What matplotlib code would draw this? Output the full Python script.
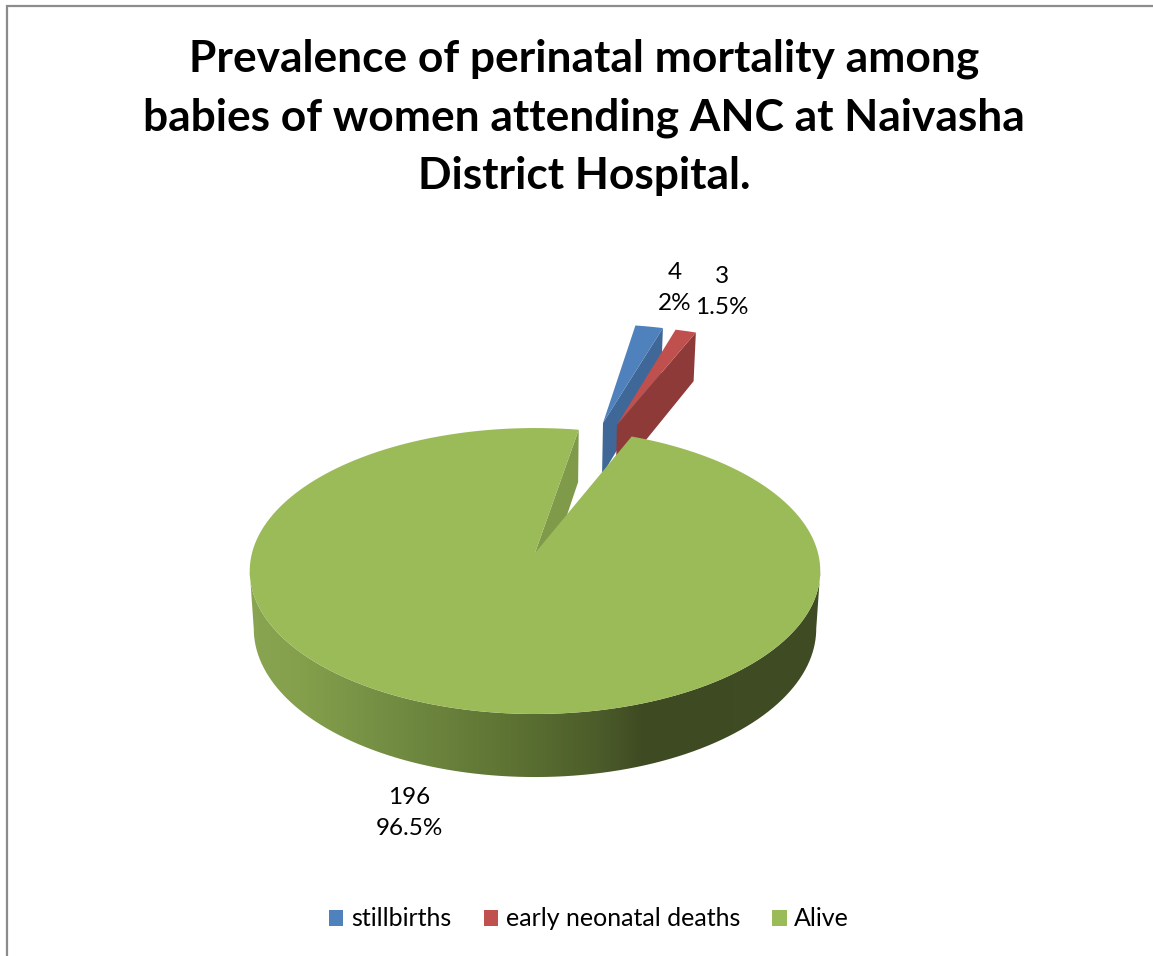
import numpy as np
import matplotlib
matplotlib.use('Agg')
import matplotlib.pyplot as plt
import matplotlib.colors as mcolors
from matplotlib.patches import Patch, PathPatch, Polygon
from matplotlib.path import Path

title = 'Prevalence of perinatal mortality among\nbabies of women attending ANC at Naivasha\nDistrict Hospital.'
categories = ['stillbirths', 'early neonatal deaths', 'Alive']
counts = [4, 3, 196]
percent_labels = ['2%', '1.5%', '96.5%']

top_colors = ['#4f81bd', '#c0504d', '#9bbb59']
wall_colors = ['#3f6797', '#8e3a39', '#7f9a48']
# plane offsets of the pulled out slices
offsets = [(0.272, -1.046), (0.327, -1.028), (0.0, 0.0)]
first_angle = 10.0

# perspective of the disc, in pixels
k = 0.126
cx = 535
top_plane = (283, 553, 140.7)
bottom_plane = (279, 610, 146)


def project(u, v, plane):
    rx, y0, b = plane
    s = 1 / (1 - k * v)
    return cx + rx * u * s, y0 + b * v * s


def rim(a0, a1, offset, plane, n=200):
    t = np.radians(np.linspace(a0, a1, n))
    return project(offset[0] + np.sin(t), offset[1] - np.cos(t), plane)


def face(a0, a1, offset):
    x, y = rim(a0, a1, offset, top_plane)
    ax0, ay0 = project(offset[0], offset[1], top_plane)
    return np.column_stack([np.r_[ax0, x], np.r_[ay0, y]])


def radial_wall(a, offset):
    xt, yt = rim(a, a, offset, top_plane, n=1)
    xb, yb = rim(a, a, offset, bottom_plane, n=1)
    ax0, ay0 = project(offset[0], offset[1], top_plane)
    bx0, by0 = project(offset[0], offset[1], bottom_plane)
    return [(ax0, ay0), (xt[0], yt[0]), (xb[0], yb[0]), (bx0, by0)]


fig = plt.figure(figsize=(11.53, 9.56), dpi=100)
ax = fig.add_axes([0, 0, 1, 1])
ax.set_xlim(0, 1153)
ax.set_ylim(956, 0)
ax.axis('off')

# chart border, only top and left are in the frame
ax.plot([7, 7, 1153], [956, 6, 6], color='#8c8c8c', lw=1.6, solid_joinstyle='miter')

edges = first_angle + np.r_[0, np.cumsum(counts)] / sum(counts) * 360

# front wall of the big slice with its shading
xt, yt = rim(97.2, 262.8, offsets[2], top_plane)
xb, yb = rim(262.8, 97.2, offsets[2], bottom_plane)
wall_path = Path(np.column_stack([np.r_[xt, xb], np.r_[yt, yb]]))
wall_cmap = mcolors.LinearSegmentedColormap.from_list('wall', [
    (0.0, '#8aa552'), (0.09, '#84a04c'), (0.27, '#708a41'), (0.44, '#5f7534'),
    (0.61, '#4c5c2a'), (0.69, '#3e4a22'), (1.0, '#404d24')])
im = ax.imshow(np.linspace(0, 1, 256)[None, :], cmap=wall_cmap, aspect='auto',
               extent=[xt.min() - 2, xt.max() + 2, 800, 500], zorder=1)
im.set_clip_path(PathPatch(wall_path, transform=ax.transData))
ax.set_xlim(0, 1153)
ax.set_ylim(956, 0)

# small slices first, big one goes over them
ax.add_patch(Polygon(radial_wall(edges[1], offsets[0]), color=wall_colors[0], lw=0, zorder=2))
ax.add_patch(Polygon(face(edges[0], edges[1], offsets[0]), color=top_colors[0], lw=0, zorder=3))
ax.add_patch(Polygon(radial_wall(edges[2], offsets[1]), color=wall_colors[1], lw=0, zorder=4))
ax.add_patch(Polygon(face(edges[1], edges[2], offsets[1]), color=top_colors[1], lw=0, zorder=5))
ax.add_patch(Polygon(radial_wall(edges[3], offsets[2]), color=wall_colors[2], lw=0, zorder=6))
ax.add_patch(Polygon(face(edges[2], edges[3], offsets[2]), color=top_colors[2], lw=0, zorder=7))

font = 'Lato'
ax.text(584, 117, title, ha='center', va='center', fontsize=31.9, fontweight='bold',
        family=font, linespacing=1.55, color='black')

label_pos = [(675, 288), (722, 292), (409, 813)]
for c, p, (lx, ly) in zip(counts, percent_labels, label_pos):
    ax.text(lx, ly, '%d\n%s' % (c, p), ha='center', va='center', fontsize=17.5,
            family=font, linespacing=1.6, color='black', zorder=8)

handles = [Patch(facecolor=c, edgecolor='none') for c in top_colors]
ax.legend(handles, categories, loc='center', bbox_to_anchor=(589 / 1153, 1 - 919 / 956),
          ncols=3, frameon=False, prop={'family': font, 'size': 18},
          handlelength=0.58, handleheight=0.62, handletextpad=0.3, columnspacing=1.3)

fig.savefig('out.png', dpi=100)
